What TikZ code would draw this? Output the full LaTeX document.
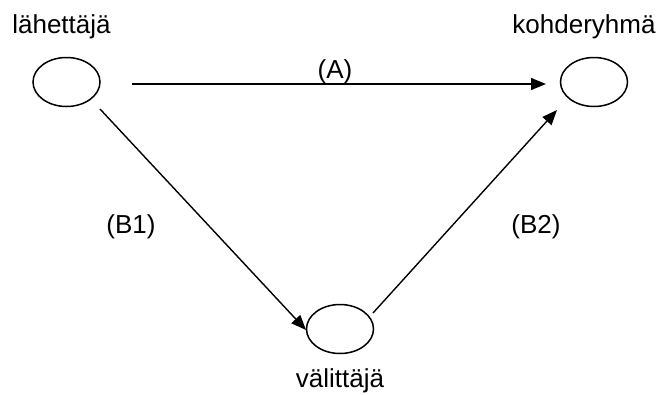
\documentclass[tikz,border=0pt]{standalone}
\usepackage{fontspec}
\setmainfont{Liberation Sans}
\usetikzlibrary{arrows.meta,shapes.geometric}
\begin{document}
\begin{tikzpicture}[x=1pt,y=-1pt,
  party/.style={draw,line width=1.5pt,ellipse,minimum width=67pt,minimum height=49pt,inner sep=0pt},
  lbl/.style={font=\fontsize{26}{30}\selectfont,inner sep=0pt},
  conn/.style={line width=1.4pt,-{Triangle[length=15pt,width=12pt]}}]
\useasboundingbox (0,0) rectangle (659,394);
\node[party] (s) at (66.5,82) {};
\node[party] (k) at (594,82) {};
\node[party] (v) at (340,329) {};
\node[lbl] (ls) at (61.5,27) {lähettäjä};
\node[lbl] (lk) at (584,27) {kohderyhmä};
\node[lbl] (lv) at (340,381) {välittäjä};
\node[lbl] (la) at (335,72) {(A)};
\node[lbl] (lb1) at (131,227) {(B1)};
\node[lbl] (lb2) at (536,227) {(B2)};
\coordinate (a0) at (132,84);
\coordinate (a1) at (546,84);
\coordinate (b0) at (100,109);
\coordinate (b1) at (306,330);
\coordinate (c0) at (373,313);
\coordinate (c1) at (557,110);
\draw[conn] (a0) -- (a1);
\draw[conn] (b0) -- (b1);
\draw[conn] (c0) -- (c1);
\end{tikzpicture}
\end{document}
